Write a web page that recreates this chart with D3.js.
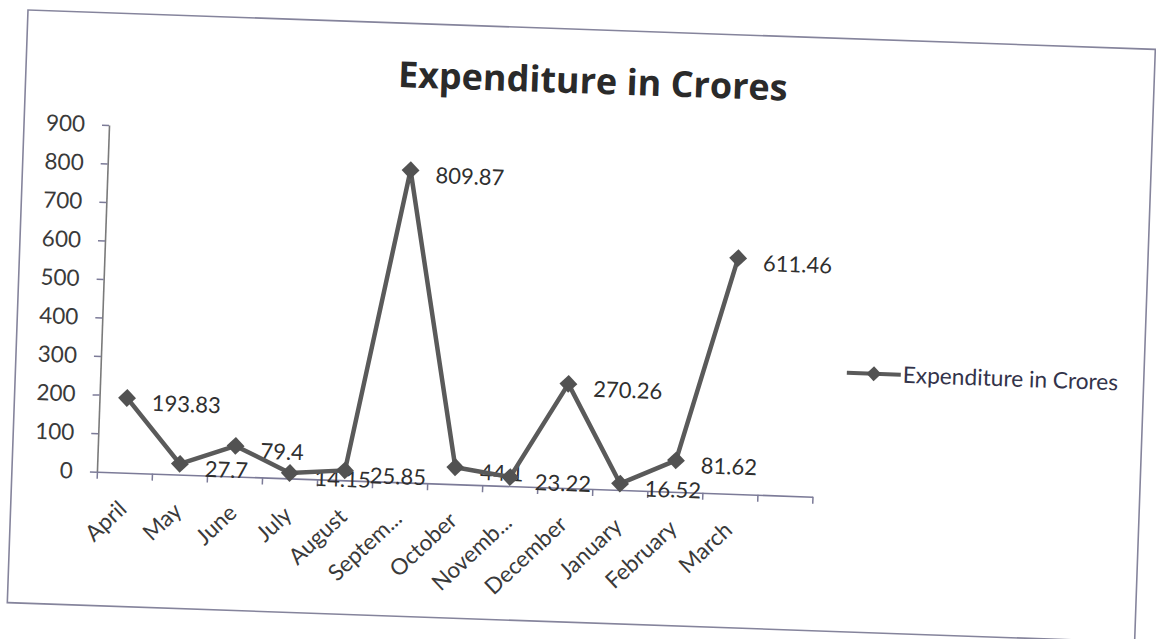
<!DOCTYPE html>
<html>
<head>
<meta charset="utf-8">
<script src="https://cdn.jsdelivr.net/npm/d3@7"></script>
<style>
    body { margin: 0; background: #fff; }
    svg { display: block; font-family: Lato, "Open Sans", sans-serif; }
</style>
</head>
<body>
<div id="chart"></div>
<script>

var months = ['April', 'May', 'June', 'July', 'August', 'Septem...', 'October', 'Novemb...', 'December', 'January', 'February', 'March'];
var expenditure = [193.83, 27.7, 79.4, 14.15, 25.85, 809.87, 44.1, 23.22, 270.26, 16.52, 81.62, 611.46];
var yTicks = [0, 100, 200, 300, 400, 500, 600, 700, 800, 900];
var chartTitle = 'Expenditure in Crores';
var seriesName = 'Expenditure in Crores';

var width = 1156, height = 639;
var frameW = 1128, frameH = 593;
var tilt = 2; // the scanned sheet sits a little crooked

var lineColor = '#5a5a5a';
var markerColor = '#525252';
var axisColor = '#7c7b98';

var svg = d3.select('#chart').append('svg')
    .attr('width', width)
    .attr('height', height);

svg.append('rect')
    .attr('width', width)
    .attr('height', height)
    .attr('fill', '#fff');

var g = svg.append('g')
    .attr('transform', 'translate(28,10) rotate(' + tilt + ')');

// chart border
g.append('rect')
    .attr('width', frameW)
    .attr('height', frameH)
    .attr('fill', 'none')
    .attr('stroke', '#85849c')
    .attr('stroke-width', 1.6);

// 13 slots, the last one is empty like in the sheet
var x = d3.scaleBand()
    .domain(d3.range(months.length + 1))
    .range([85, 801]);

var y = d3.scaleLinear()
    .domain([0, 900])
    .range([459, 112]);

var cx = function(i) { return x(i) + x.bandwidth() / 2; };

g.append('text')
    .attr('x', 567)
    .attr('y', 64)
    .attr('text-anchor', 'middle')
    .style('font-family', '"Open Sans", Lato, sans-serif')
    .style('font-size', '36px')
    .style('font-weight', 'bold')
    .style('fill', '#2a2a2a')
    .text(chartTitle);

// y axis
var yAxis = g.append('g')
    .attr('transform', 'translate(' + x.range()[0] + ',0)')
    .call(d3.axisLeft(y).tickValues(yTicks).tickSize(7).tickSizeOuter(0).tickPadding(17));

yAxis.select('.domain').attr('stroke', '#7a7a7a').attr('stroke-width', 1.6);
yAxis.selectAll('.tick line').attr('stroke', axisColor).attr('stroke-width', 1.5);
yAxis.selectAll('.tick text')
    .style('font-size', '22.5px')
    .style('font-family', 'Lato, "Open Sans", sans-serif')
    .style('fill', '#3a3a3a');

// x axis, ticks sit between categories
var xEdge = d3.scaleLinear()
    .domain([0, months.length + 1])
    .range(x.range());

var xAxis = g.append('g')
    .attr('transform', 'translate(0,' + y(0) + ')')
    .call(d3.axisBottom(xEdge).tickValues(d3.range(months.length + 2)).tickSize(7).tickSizeOuter(0).tickFormat(''));

xAxis.select('.domain').attr('stroke', axisColor).attr('stroke-width', 1.6);
xAxis.selectAll('.tick line').attr('stroke', axisColor).attr('stroke-width', 1.5);

g.append('g').selectAll('text')
    .data(months)
    .enter().append('text')
    .attr('transform', function(d, i) {
        return 'translate(' + (cx(i) + 5) + ',' + (y(0) + 38) + ') rotate(-45)';
    })
    .attr('text-anchor', 'end')
    .style('font-size', '22.5px')
    .style('fill', '#3a3a3a')
    .text(function(d) { return d; });

// data labels go under the line, as in the sheet
g.append('g').selectAll('text')
    .data(expenditure)
    .enter().append('text')
    .attr('x', function(d, i) { return cx(i) + 25; })
    .attr('y', function(d) { return y(d) + 12; })
    .style('font-size', '22px')
    .style('fill', '#2f2f2f')
    .text(function(d) { return d; });

var line = d3.line()
    .x(function(d, i) { return cx(i); })
    .y(function(d) { return y(d); });

g.append('path')
    .attr('d', line(expenditure))
    .attr('fill', 'none')
    .attr('stroke', lineColor)
    .attr('stroke-width', 4.5)
    .attr('stroke-linejoin', 'round');

var diamond = d3.symbol().type(d3.symbolSquare).size(160);

g.append('g').selectAll('path')
    .data(expenditure)
    .enter().append('path')
    .attr('d', diamond)
    .attr('transform', function(d, i) { return 'translate(' + cx(i) + ',' + y(d) + ') rotate(45)'; })
    .attr('fill', markerColor);

// legend
var legend = g.append('g')
    .attr('transform', 'translate(831,334)');

legend.append('line')
    .attr('x1', 0)
    .attr('x2', 54)
    .attr('stroke', lineColor)
    .attr('stroke-width', 4);

legend.append('path')
    .attr('d', d3.symbol().type(d3.symbolSquare).size(110))
    .attr('transform', 'translate(27,0) rotate(45)')
    .attr('fill', markerColor);

legend.append('text')
    .attr('x', 56)
    .attr('y', 8)
    .style('font-size', '22.7px')
    .style('fill', '#33334a')
    .text(seriesName);

</script>
</body>
</html>
